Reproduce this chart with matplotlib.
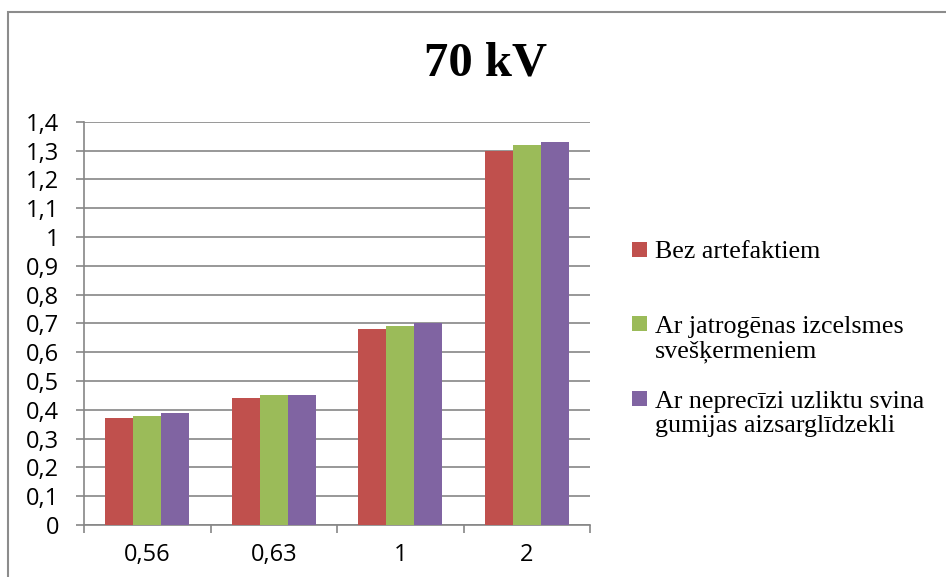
import matplotlib.pyplot as plt
import numpy as np
from matplotlib.patches import Rectangle

categories = ['0,56', '0,63', '1', '2']
series_names = ['Bez artefaktiem',
                'Ar jatrogēnas izcelsmes\nsvešķermeniem',
                'Ar neprecīzi uzliktu svina\ngumijas aizsarglīdzekli']
bez = [0.37, 0.44, 0.68, 1.30]
jatro = [0.38, 0.45, 0.69, 1.32]
svina = [0.39, 0.45, 0.70, 1.33]
colors = ['#C0504D', '#9BBB59', '#8064A2']

W, H = 946, 577
fig = plt.figure(figsize=(W / 100, H / 100), dpi=100)
ax = fig.add_axes([84 / W, 52 / H, 506 / W, 403.3 / H])

x = np.arange(len(categories))
w = 1 / 4.5
bars = []
for i, vals in enumerate([bez, jatro, svina]):
    b = ax.bar(x + (i - 1) * w, vals, w, color=colors[i], label=series_names[i], zorder=3)
    bars.append(b)

ax.set_xlim(-0.5, 3.5)
ax.set_ylim(0, 1.4)
yt = np.round(np.arange(0, 1.41, 0.1), 1)
ax.set_yticks(yt)
ax.set_yticklabels([('%g' % v).replace('.', ',') for v in yt])
ax.set_xticks(x)
ax.set_xticklabels(categories)
ax.set_xticks(np.arange(-0.5, 4, 1), minor=True)

grey = '#868686'
ax.grid(axis='y', color=grey, linewidth=1.2, zorder=0)
for s in ['top', 'right']:
    ax.spines[s].set_visible(False)
for s in ['left', 'bottom']:
    ax.spines[s].set_color(grey)
    ax.spines[s].set_linewidth(1.2)
ax.tick_params(axis='y', length=6, width=1.2, color=grey, pad=12, labelsize=17)
ax.tick_params(axis='x', which='major', length=0, pad=13, labelsize=17)
ax.tick_params(axis='x', which='minor', length=6, width=1.2, color=grey)
for lab in ax.get_xticklabels() + ax.get_yticklabels():
    lab.set_fontfamily('Open Sans')

# title
fig.text(485 / W, 1 - 63 / H, '70 kV', ha='center', va='center',
         fontsize=35, fontweight='bold', family='Liberation Serif')

# legend, Excel style: square aligned with the first line of each entry
baselines = [258, 332, 407]   # baseline of the first line, px from top
line_gap = 25
for b, name, yb in zip(bars, series_names, baselines):
    fig.patches.append(Rectangle((632 / W, 1 - (yb - 1) / H), 15 / W, 15 / H,
                                 transform=fig.transFigure,
                                 facecolor=b.patches[0].get_facecolor(),
                                 edgecolor='none'))
    last = yb + line_gap * name.count('\n')
    fig.text(655 / W, 1 - last / H, name, ha='left', va='baseline',
             fontsize=18.7, family='Liberation Serif', linespacing=1.09)

# chart border
fig.patches.append(Rectangle((8 / W, -0.1), 1.1, 1 - 12 / H + 0.1,
                             transform=fig.transFigure, fill=False,
                             edgecolor='#8c8c8c', linewidth=1.5))

fig.savefig('out.png', dpi=100)
